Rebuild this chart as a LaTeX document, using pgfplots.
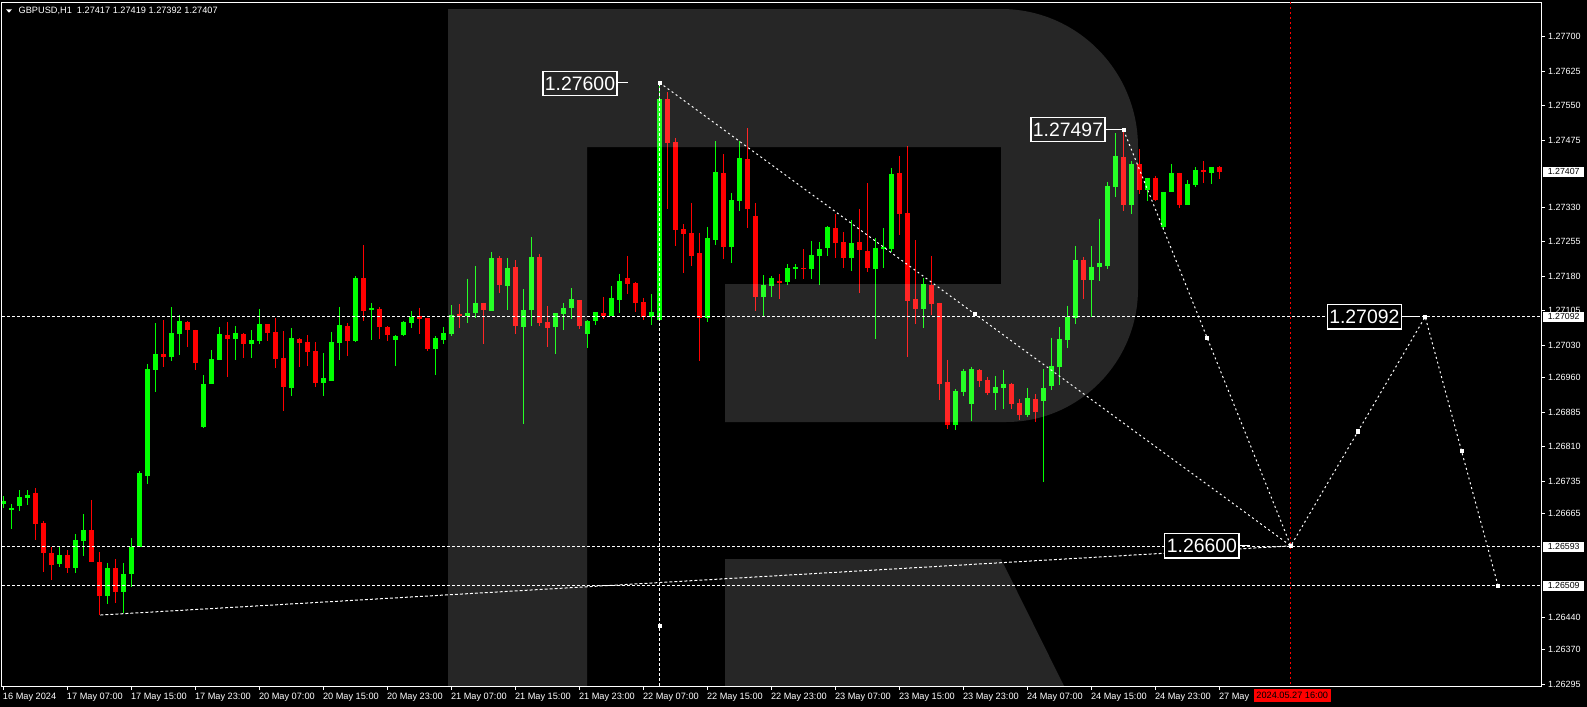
\documentclass[border=0pt]{standalone}
\usepackage{fontspec}
\setmainfont{Liberation Sans}
\usepackage{pgfplots}
\usepackage{pgfplotstable}
\pgfplotsset{compat=1.18}
\definecolor{cgreen}{HTML}{00FF00}
\definecolor{cred}{HTML}{FF0000}

% bullish candles: index, open, high, low, close
\pgfplotstableread{
i O H L C
0 1.26686 1.26703 1.26677 1.26692
1 1.26673 1.26686 1.26632 1.26677
2 1.26682 1.26716 1.26671 1.26701
3 1.26699 1.26716 1.26684 1.26705
7 1.26556 1.26593 1.26550 1.26575
9 1.26546 1.26621 1.26537 1.26608
10 1.26606 1.26664 1.26574 1.26629
13 1.26487 1.26558 1.26470 1.26547
15 1.26496 1.26558 1.26449 1.26534
16 1.26533 1.26612 1.26506 1.26593
17 1.26593 1.26757 1.26593 1.26753
18 1.26747 1.26990 1.26730 1.26979
19 1.26977 1.27078 1.26929 1.27011
21 1.27005 1.27113 1.26997 1.27057
22 1.27055 1.27096 1.27010 1.27083
25 1.26854 1.26966 1.26851 1.26946
26 1.26947 1.27020 1.26947 1.27000
27 1.26999 1.27070 1.26999 1.27055
29 1.27044 1.27072 1.26999 1.27057
31 1.27034 1.27063 1.27003 1.27042
32 1.27040 1.27109 1.27034 1.27076
36 1.26938 1.27068 1.26921 1.27046
40 1.26949 1.27013 1.26921 1.26959
41 1.26953 1.27059 1.26953 1.27037
42 1.27036 1.27113 1.26999 1.27074
44 1.27039 1.27180 1.27037 1.27176
46 1.27107 1.27122 1.27042 1.27111
49 1.27042 1.27052 1.26986 1.27050
50 1.27052 1.27083 1.27050 1.27081
51 1.27078 1.27104 1.27068 1.27092
54 1.27023 1.27050 1.26966 1.27046
55 1.27042 1.27070 1.27034 1.27057
56 1.27055 1.27117 1.27051 1.27097
58 1.27094 1.27175 1.27079 1.27100
59 1.27100 1.27202 1.27090 1.27122
61 1.27105 1.27232 1.27105 1.27219
63 1.27159 1.27219 1.27107 1.27198
65 1.27070 1.27152 1.26859 1.27107
66 1.27107 1.27265 1.27073 1.27222
69 1.27070 1.27100 1.27012 1.27100
70 1.27099 1.27122 1.27064 1.27111
71 1.27112 1.27154 1.27088 1.27130
73 1.27055 1.27085 1.27025 1.27083
74 1.27082 1.27102 1.27075 1.27102
76 1.27094 1.27159 1.27094 1.27133
77 1.27129 1.27185 1.27101 1.27170
81 1.27092 1.27141 1.27075 1.27102
82 1.27086 1.27600 1.27085 1.27564
88 1.27090 1.27287 1.27081 1.27263
89 1.27258 1.27473 1.27248 1.27406
91 1.27243 1.27360 1.27209 1.27345
92 1.27344 1.27473 1.27322 1.27436
95 1.27135 1.27182 1.27094 1.27161
96 1.27159 1.27180 1.27135 1.27176
98 1.27168 1.27206 1.27161 1.27198
99 1.27196 1.27206 1.27174 1.27200
101 1.27196 1.27256 1.27174 1.27226
102 1.27224 1.27254 1.27161 1.27239
103 1.27242 1.27289 1.27224 1.27287
106 1.27220 1.27302 1.27192 1.27252
109 1.27196 1.27263 1.27044 1.27242
110 1.27240 1.27284 1.27198 1.27244
111 1.27240 1.27415 1.27233 1.27402
115 1.27109 1.27176 1.27068 1.27163
119 1.26858 1.26935 1.26847 1.26931
120 1.26929 1.26979 1.26921 1.26974
121 1.26903 1.26984 1.26867 1.26979
124 1.26927 1.26964 1.26890 1.26940
125 1.26938 1.26977 1.26893 1.26947
128 1.26880 1.26938 1.26875 1.26916
130 1.26910 1.26979 1.26734 1.26938
131 1.26942 1.27047 1.26934 1.26986
132 1.26984 1.27070 1.26945 1.27044
133 1.27042 1.27116 1.27025 1.27092
134 1.27090 1.27246 1.27077 1.27216
136 1.27172 1.27246 1.27092 1.27201
137 1.27201 1.27305 1.27170 1.27209
138 1.27203 1.27385 1.27196 1.27376
139 1.27374 1.27490 1.27352 1.27441
141 1.27335 1.27430 1.27316 1.27424
143 1.27368 1.27394 1.27344 1.27394
145 1.27287 1.27363 1.27281 1.27363
146 1.27363 1.27424 1.27363 1.27404
148 1.27335 1.27389 1.27334 1.27381
149 1.27378 1.27417 1.27374 1.27411
151 1.27404 1.27417 1.27381 1.27417
}\greenc

% bearish candles: index, open, high, low, close
\pgfplotstableread{
i O H L C
4 1.26710 1.26721 1.26608 1.26643
5 1.26645 1.26649 1.26539 1.26580
6 1.26580 1.26593 1.26520 1.26554
8 1.26575 1.26586 1.26537 1.26546
11 1.26629 1.26695 1.26559 1.26561
12 1.26560 1.26582 1.26445 1.26487
14 1.26547 1.26567 1.26470 1.26496
20 1.27011 1.27085 1.26984 1.27005
23 1.27081 1.27083 1.27027 1.27064
24 1.27063 1.27064 1.26977 1.26992
28 1.27052 1.27081 1.26962 1.27044
30 1.27055 1.27057 1.27003 1.27034
33 1.27076 1.27076 1.27040 1.27057
34 1.27059 1.27089 1.26981 1.27001
35 1.27003 1.27061 1.26888 1.26940
37 1.27044 1.27046 1.26984 1.27036
38 1.27037 1.27052 1.26986 1.27016
39 1.27018 1.27037 1.26940 1.26949
43 1.27072 1.27078 1.27008 1.27040
45 1.27176 1.27248 1.27083 1.27104
47 1.27109 1.27113 1.27044 1.27070
48 1.27070 1.27072 1.27040 1.27053
52 1.27094 1.27112 1.27055 1.27088
53 1.27089 1.27090 1.27018 1.27023
57 1.27098 1.27120 1.27068 1.27094
60 1.27122 1.27123 1.27034 1.27107
62 1.27219 1.27224 1.27144 1.27161
64 1.27200 1.27215 1.27055 1.27073
67 1.27222 1.27228 1.27073 1.27079
68 1.27081 1.27115 1.27027 1.27068
72 1.27128 1.27129 1.27066 1.27073
75 1.27100 1.27135 1.27088 1.27093
78 1.27176 1.27224 1.27142 1.27164
79 1.27165 1.27167 1.27103 1.27122
80 1.27124 1.27133 1.27086 1.27092
83 1.27564 1.27579 1.27326 1.27469
84 1.27471 1.27480 1.27246 1.27281
85 1.27282 1.27293 1.27187 1.27272
86 1.27274 1.27339 1.27203 1.27224
87 1.27230 1.27274 1.26997 1.27090
90 1.27404 1.27445 1.27218 1.27243
93 1.27434 1.27501 1.27285 1.27326
94 1.27311 1.27339 1.27105 1.27135
97 1.27170 1.27185 1.27131 1.27166
100 1.27198 1.27239 1.27174 1.27196
104 1.27284 1.27315 1.27220 1.27253
105 1.27254 1.27276 1.27198 1.27220
107 1.27254 1.27326 1.27144 1.27237
108 1.27235 1.27382 1.27190 1.27198
112 1.27404 1.27441 1.27270 1.27316
113 1.27317 1.27462 1.27005 1.27127
114 1.27131 1.27258 1.27077 1.27109
116 1.27161 1.27224 1.27096 1.27120
117 1.27122 1.27123 1.26912 1.26947
118 1.26950 1.26999 1.26849 1.26858
122 1.26977 1.26978 1.26940 1.26953
123 1.26955 1.26962 1.26923 1.26927
126 1.26947 1.26949 1.26893 1.26903
127 1.26906 1.26914 1.26869 1.26880
129 1.26914 1.26925 1.26864 1.26886
135 1.27216 1.27222 1.27131 1.27172
140 1.27439 1.27497 1.27322 1.27335
142 1.27424 1.27456 1.27359 1.27368
144 1.27394 1.27398 1.27344 1.27346
147 1.27404 1.27405 1.27329 1.27335
150 1.27411 1.27430 1.27383 1.27407
152 1.27417 1.27419 1.27392 1.27407
}\redc

\begin{document}
\begin{tikzpicture}
\fill[black] (0,0) rectangle (793.5pt,-353.5pt);
\begin{axis}[
  at={(1pt,-343pt)}, anchor=south west,
  scale only axis, width=769.5pt, height=342pt,
  xmin=-0.2, xmax=192.175, ymin=1.26291, ymax=1.27775,
  axis line style={white, line width=0.5pt},
  tick style={white, line width=0.5pt},
  major tick length=2pt, tick align=outside,
  xtick pos=bottom, ytick pos=right, yticklabel pos=right,
  scaled y ticks=false, scaled x ticks=false,
  xtick={0,8,...,152},
  xticklabels={16 May 2024, 17 May 07:00, 17 May 15:00, 17 May 23:00, 20 May 07:00, 20 May 15:00, 20 May 23:00, 21 May 07:00, 21 May 15:00, 21 May 23:00, 22 May 07:00, 22 May 15:00, 22 May 23:00, 23 May 07:00, 23 May 15:00, 23 May 23:00, 24 May 07:00, 24 May 15:00, 24 May 23:00, 27 May},
  ytick={1.27700,1.27625,1.27550,1.27475,1.27330,1.27255,1.27180,1.27105,1.27030,1.26960,1.26885,1.26810,1.26735,1.26665,1.26440,1.26370,1.26295},
  yticklabels={1.27700,1.27625,1.27550,1.27475,1.27330,1.27255,1.27180,1.27105,1.27030,1.26960,1.26885,1.26810,1.26735,1.26665,1.26440,1.26370,1.26295},
  tick label style={text=white},
  xticklabel style={font=\fontsize{4.6}{5}\selectfont, anchor=north west, inner sep=0pt, xshift=-0.5pt, yshift=-1.5pt},
  yticklabel style={font=\fontsize{4.5}{5}\selectfont, anchor=west, inner sep=0pt, xshift=1.3pt},
  clip=true,
]
% wicks
\addplot[draw=none, mark=none, forget plot, error bars/.cd, y dir=minus, y explicit, error mark=none,
  error bar style={draw=cgreen, line width=0.5pt}]
  table[x=i, y=H, y error minus expr=\thisrow{H}-\thisrow{L}] {\greenc};
\addplot[draw=none, mark=none, forget plot, error bars/.cd, y dir=minus, y explicit, error mark=none,
  error bar style={draw=cred, line width=0.5pt}]
  table[x=i, y=H, y error minus expr=\thisrow{H}-\thisrow{L}] {\redc};
% bodies
\addplot[draw=none, mark=none, forget plot, error bars/.cd, y dir=minus, y explicit, error mark=none,
  error bar style={draw=cgreen, line width=2.5pt}]
  table[x=i, y=C, y error minus expr=\thisrow{C}-\thisrow{O}] {\greenc};
\addplot[draw=none, mark=none, forget plot, error bars/.cd, y dir=minus, y explicit, error mark=none,
  error bar style={draw=cred, line width=2.5pt}]
  table[x=i, y=O, y error minus expr=\thisrow{O}-\thisrow{C}] {\redc};

% horizontal levels
\addplot[white, line width=0.5pt, dash pattern=on 1.5pt off 1pt] coordinates {(-0.2,1.27092) (192.175,1.27092)};
\addplot[white, line width=0.5pt, dash pattern=on 1.5pt off 1pt] coordinates {(-0.2,1.26593) (192.175,1.26593)};
\addplot[white, line width=0.5pt, dash pattern=on 1.5pt off 1pt] coordinates {(-0.2,1.26509) (192.175,1.26509)};
% vertical lines
\addplot[white, line width=0.5pt, dash pattern=on 1.5pt off 1pt] coordinates {(82,1.27600) (82,1.26291)};
\addplot[cred, line width=0.5pt, dash pattern=on 1pt off 1.5pt] coordinates {(160.9,1.27775) (160.9,1.26291)};
% forecast path
\addplot[white, line width=0.5pt, dash pattern=on 1pt off 1.5pt] coordinates {(82,1.27600) (160.9,1.26595) (177.7,1.27092) (186.8,1.26509)};
\addplot[white, line width=0.5pt, dash pattern=on 1pt off 1.5pt] coordinates {(140,1.27497) (160.9,1.26595)};
\addplot[white, line width=0.5pt, dash pattern=on 1.5pt off 1pt] coordinates {(12.1,1.26445) (160.9,1.26595)};
% markers
\addplot[only marks, mark=square*, mark size=0.8pt, white] coordinates {(82,1.27600) (140,1.27497) (160.9,1.26595) (177.7,1.27092) (186.8,1.26509) (121.45,1.270975) (150.45,1.27046) (169.3,1.268435) (182.25,1.268005) (82,1.26422)};
% connectors of the price labels
\addplot[white, line width=0.5pt] coordinates {(76.76,1.27600) (78.0,1.27600)};
\addplot[white, line width=0.5pt] coordinates {(137.76,1.27498) (139.8,1.27498)};
\addplot[white, line width=0.5pt] coordinates {(174.8,1.27092) (176.8,1.27092)};
\addplot[white, line width=0.5pt] coordinates {(154.5,1.26595) (155.8,1.26595)};
% price labels
\node[draw=white, line width=0.6pt, fill=black, text=white, font=\fontsize{9.7}{10}\selectfont, inner xsep=1pt, inner ysep=0pt, minimum height=12.2pt, anchor=east] at (axis cs:76.76,1.27598) {1.27600};
\node[draw=white, line width=0.6pt, fill=black, text=white, font=\fontsize{9.7}{10}\selectfont, inner xsep=1pt, inner ysep=0pt, minimum height=12.2pt, anchor=east] at (axis cs:137.76,1.27498) {1.27497};
\node[draw=white, line width=0.6pt, fill=black, text=white, font=\fontsize{9.7}{10}\selectfont, inner xsep=1pt, inner ysep=0pt, minimum height=12.2pt, anchor=east] at (axis cs:174.8,1.27092) {1.27092};
\node[draw=white, line width=0.6pt, fill=black, text=white, font=\fontsize{9.7}{10}\selectfont, inner xsep=1pt, inner ysep=0pt, minimum height=12.2pt, anchor=east] at (axis cs:154.5,1.26595) {1.26600};
% anchors for the axis value boxes
\coordinate (b1) at (axis cs:192.175,1.27407);
\coordinate (b2) at (axis cs:192.175,1.27092);
\coordinate (b3) at (axis cs:192.175,1.26593);
\coordinate (b4) at (axis cs:192.175,1.26509);
\end{axis}
% watermark
\begin{scope}[x=0.5pt, y=-0.5pt]
\fill[white, fill opacity=0.15]
  (448,9) -- (1001,9) .. controls (1077,9) and (1138,71) .. (1138,147) -- (1138,289)
  .. controls (1138,362) and (1079,422) .. (1006,422) -- (725,422) -- (725,284) -- (1001,284)
  -- (1001,147) -- (587,147) -- (587,686) -- (448,686) -- cycle;
\fill[white, fill opacity=0.15] (725,559) -- (1001,559) -- (1064,686) -- (725,686) -- cycle;
% header
\fill[white] (6,9.3) -- (12,9.3) -- (9,12.7) -- cycle;
\node[anchor=west, inner sep=0pt, text=white, font=\fontsize{4.6}{5}\selectfont] at (18.3,10.5) {GBPUSD,H1\ \ 1.27417 1.27419 1.27392 1.27407};
% time label
\fill[cred] (1254,689) rectangle (1331,702);
\node[anchor=west, inner sep=0pt, text=black, font=\fontsize{4.6}{5}\selectfont] at (1256,695.8) {2024.05.27 16:00};
\end{scope}
% axis value boxes
\node[fill=white, text=black, anchor=west, inner xsep=2.2pt, inner ysep=0pt, minimum height=5pt, font=\fontsize{4.4}{5}\selectfont] at ([xshift=1pt]b1) {1.27407};
\node[fill=white, text=black, anchor=west, inner xsep=2.2pt, inner ysep=0pt, minimum height=5pt, font=\fontsize{4.4}{5}\selectfont] at ([xshift=1pt]b2) {1.27092};
\node[fill=white, text=black, anchor=west, inner xsep=2.2pt, inner ysep=0pt, minimum height=5pt, font=\fontsize{4.4}{5}\selectfont] at ([xshift=1pt]b3) {1.26593};
\node[fill=white, text=black, anchor=west, inner xsep=2.2pt, inner ysep=0pt, minimum height=5pt, font=\fontsize{4.4}{5}\selectfont] at ([xshift=1pt]b4) {1.26509};
\pgfresetboundingbox
\path[use as bounding box] (0,0) rectangle (793.5pt,-353.5pt);
\end{tikzpicture}
\end{document}
